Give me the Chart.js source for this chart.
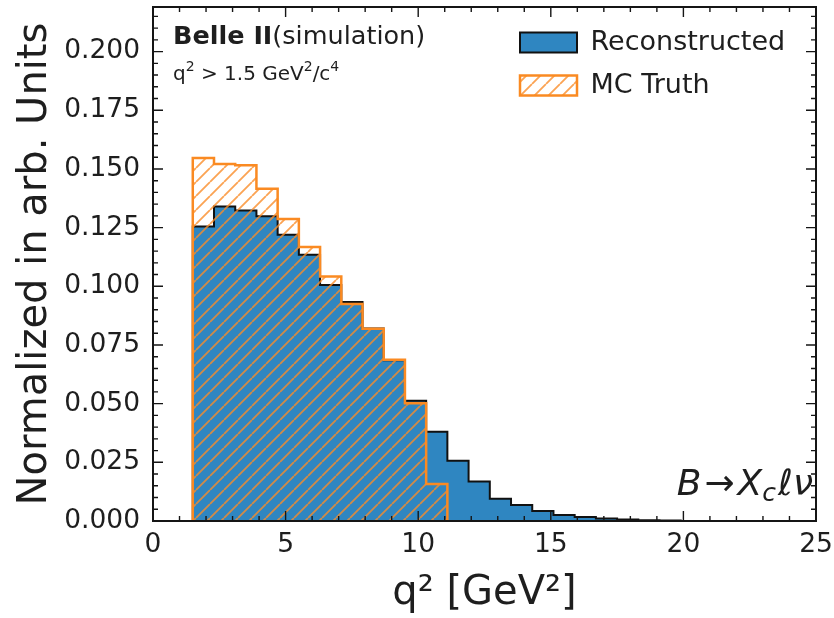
<!DOCTYPE html>
<html>
<head>
<meta charset="utf-8">
<script src="https://cdn.jsdelivr.net/npm/chart.js@4.4.1/dist/chart.umd.min.js"></script>
<style>
html,body{margin:0;padding:0;background:#fff;}
canvas{display:block;}
</style>
</head>
<body>
<canvas id="c" width="834" height="618"></canvas>
<script>
// ---- data ----
const binEdges = [1.5, 2.3, 3.1, 3.9, 4.7, 5.5, 6.3, 7.1, 7.9, 8.7, 9.5, 10.3, 11.1,
                  11.9, 12.7, 13.5, 14.3, 15.1, 15.9, 16.7, 17.5, 18.3, 19.1, 19.9];
const reconstructed = [0.1255, 0.1340, 0.1323, 0.1298, 0.1220, 0.1134, 0.1006, 0.0933,
                       0.0820, 0.0685, 0.0512, 0.0380, 0.0257, 0.0168, 0.0095, 0.0068,
                       0.0043, 0.0026, 0.0017, 0.0011, 0.0006, 0.0003, 0.0002];
const mcTruth = [0.1547, 0.1521, 0.1516, 0.1416, 0.1287, 0.1167, 0.1042, 0.0925,
                 0.0819, 0.0687, 0.0502, 0.0158];
const seriesLabels = ['Reconstructed', 'MC Truth'];
const xRange = [0, 25];
const yRange = [0, 0.219];
const xMajorStep = 5, xMinorStep = 1;
const yMajorStep = 0.025, yMinorStep = 0.005;
const xTitle = 'q\u00B2 [GeV\u00B2]';
const yTitle = 'Normalized in arb. Units';

// ---- helpers ----
function stepPoints(edges, values) {
  const pts = [{x: edges[0], y: 0}];
  values.forEach((v, i) => pts.push({x: edges[i], y: v}));
  const n = values.length;
  pts.push({x: edges[n], y: values[n - 1]});
  pts.push({x: edges[n], y: 0});
  return pts;
}

const canvas = document.getElementById('c');
const mainCtx = canvas.getContext('2d');

function makeHatch(color, size, width) {
  const t = document.createElement('canvas');
  t.width = size; t.height = size;
  const g = t.getContext('2d');
  g.strokeStyle = color;
  g.lineWidth = width;
  g.beginPath();
  for (const k of [-1, 0, 1]) {
    g.moveTo(k * size, size);
    g.lineTo(k * size + size, 0);
  }
  g.stroke();
  return mainCtx.createPattern(t, 'repeat');
}

const BLUE = '#2f86c1';
const ORANGE = '#fa8a22';
const TEXT = '#1e1e1e';
const hatch = makeHatch('rgba(250,140,40,0.8)', 14, 1.8);

function drawRuns(ctx, x, y, runs, measureOnly) {
  let cx = x;
  for (const r of runs) {
    if (r.gap) { cx += r.gap; continue; }
    ctx.font = r.font;
    if (!measureOnly) ctx.fillText(r.t, cx, y + (r.dy || 0));
    cx += ctx.measureText(r.t).width;
  }
  return cx - x;
}

const framePlugin = {
  id: 'frameTicks',
  afterLayout(chart) {
    const lg = chart.legend;
    const a = chart.chartArea;
    if (lg) { lg.left = a.right - 312; lg.top = a.top + 6; }
  },
  afterDraw(chart) {
    const {ctx, chartArea: a, scales: {x, y}} = chart;
    ctx.save();
    ctx.strokeStyle = '#151515';
    ctx.lineWidth = 1.4;
    ctx.beginPath();
    const nx = Math.round((xRange[1] - xRange[0]) / xMinorStep);
    for (let i = 0; i <= nx; i++) {
      const v = xRange[0] + i * xMinorStep;
      const px = x.getPixelForValue(v);
      const major = Math.abs(v / xMajorStep - Math.round(v / xMajorStep)) < 1e-6;
      const L = major ? 10 : 5;
      ctx.moveTo(px, a.bottom); ctx.lineTo(px, a.bottom - L);
      ctx.moveTo(px, a.top); ctx.lineTo(px, a.top + L);
    }
    const ny = Math.floor((yRange[1] - yRange[0]) / yMinorStep + 1e-6);
    for (let i = 0; i <= ny; i++) {
      const v = yRange[0] + i * yMinorStep;
      const py = y.getPixelForValue(v);
      const major = Math.abs(v / yMajorStep - Math.round(v / yMajorStep)) < 1e-6;
      const L = major ? 10 : 5;
      ctx.moveTo(a.left, py); ctx.lineTo(a.left + L, py);
      ctx.moveTo(a.right, py); ctx.lineTo(a.right - L, py);
    }
    ctx.stroke();
    ctx.lineWidth = 2;
    ctx.strokeRect(a.left, a.top, a.right - a.left, a.bottom - a.top);

    // annotations
    ctx.fillStyle = TEXT;
    ctx.textBaseline = 'alphabetic';
    ctx.textAlign = 'left';
    const F = '"DejaVu Sans"';
    drawRuns(ctx, a.left + 20, a.top + 37, [
      {t: 'Belle II', font: 'bold 25.5px ' + F},
      {t: '(simulation)', font: '25.5px ' + F}
    ]);
    drawRuns(ctx, a.left + 20, a.top + 73, [
      {t: 'q', font: '20px ' + F},
      {t: '2', font: '14px ' + F, dy: -9},
      {t: ' > 1.5 GeV', font: '20px ' + F},
      {t: '2', font: '14px ' + F, dy: -9},
      {t: '/c', font: '20px ' + F},
      {t: '4', font: '14px ' + F, dy: -9}
    ]);
    const proc = [
      {t: 'B', font: 'italic 36px ' + F},
      {gap: 3},
      {t: '\u2192', font: '36px ' + F},
      {gap: 3},
      {t: 'X', font: 'italic 36px ' + F},
      {t: 'c', font: 'italic 25px ' + F, dy: 6},
      {gap: 2},
      {t: '\u2113', font: 'italic 36px ' + F},
      {t: '\u03BD', font: 'italic 36px ' + F}
    ];
    const w = drawRuns(ctx, 0, 0, proc, true);
    drawRuns(ctx, a.right - 3 - w, a.bottom - 26, proc);
    ctx.restore();
  }
};

new Chart(canvas, {
  type: 'line',
  data: {
    datasets: [
      {
        label: seriesLabels[0],
        data: stepPoints(binEdges, reconstructed),
        stepped: 'before',
        fill: 'origin',
        backgroundColor: BLUE,
        borderColor: '#111111',
        borderWidth: 2,
        pointRadius: 0,
        order: 2
      },
      {
        label: seriesLabels[1],
        data: stepPoints(binEdges, mcTruth),
        stepped: 'before',
        fill: 'origin',
        backgroundColor: hatch,
        borderColor: ORANGE,
        borderWidth: 2.5,
        pointRadius: 0,
        order: 1
      }
    ]
  },
  options: {
    responsive: false,
    animation: false,
    devicePixelRatio: 1,
    layout: {padding: {left: 0, top: 7, right: 18, bottom: 0}},
    plugins: {
      tooltip: {enabled: false},
      legend: {
        position: 'chartArea',
        align: 'start',
        labels: {
          boxWidth: 57,
          boxHeight: 20,
          padding: 16,
          color: TEXT,
          font: {family: 'DejaVu Sans', size: 27},
          sort: (a, b) => a.datasetIndex - b.datasetIndex
        }
      }
    },
    scales: {
      x: {
        type: 'linear',
        min: xRange[0],
        max: xRange[1],
        grid: {display: false},
        border: {display: false},
        ticks: {
          stepSize: xMajorStep,
          padding: 0,
          color: TEXT,
          maxRotation: 0,
          font: {family: 'DejaVu Sans', size: 26.5}
        },
        title: {
          display: true,
          text: xTitle,
          color: TEXT,
          padding: {top: 0, bottom: 0},
          font: {family: 'DejaVu Sans', size: 40}
        },
        afterFit(s) { s.height = 97; s.paddingLeft = 0; s.paddingRight = 0; }
      },
      y: {
        type: 'linear',
        min: yRange[0],
        max: yRange[1],
        grid: {display: false},
        border: {display: false},
        ticks: {
          stepSize: yMajorStep,
          includeBounds: false,
          padding: 5,
          color: TEXT,
          font: {family: 'DejaVu Sans', size: 26.5},
          callback: v => Number(v).toFixed(3)
        },
        title: {
          display: true,
          text: yTitle,
          color: TEXT,
          padding: {top: 12, bottom: 0},
          font: {family: 'DejaVu Sans', size: 40}
        },
        afterFit(s) { s.width = 153; s.paddingTop = 0; s.paddingBottom = 0; }
      }
    }
  },
  plugins: [framePlugin]
});
</script>
</body>
</html>
